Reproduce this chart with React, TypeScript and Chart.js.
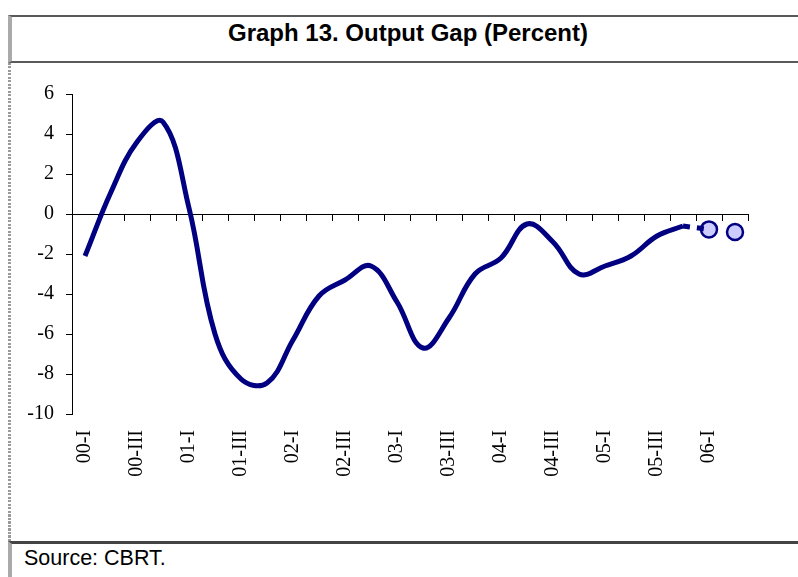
import React, { useEffect, useRef } from "react";
import { Chart, registerables } from "chart.js";

Chart.register(...registerables);

const quarters = [
  "00-I", "00-II", "00-III", "00-IV",
  "01-I", "01-II", "01-III", "01-IV",
  "02-I", "02-II", "02-III", "02-IV",
  "03-I", "03-II", "03-III", "03-IV",
  "04-I", "04-II", "04-III", "04-IV",
  "05-I", "05-II", "05-III", "05-IV",
  "06-I", "06-II",
];

// Output gap (percent), actual estimates 00-I .. 05-IV
const outputGap: (number | null)[] = [
  -2.1, 1.1, 3.6, 4.6,
  0.3, -6.0, -8.25, -8.45,
  -6.3, -4.1, -3.3, -2.6,
  -4.4, -6.7, -5.2, -3.0,
  -2.2, -0.5, -1.4, -3.0,
  -2.6, -2.1, -1.1, -0.6,
  null, null,
];

// Forecast points 06-I, 06-II
const forecast: (number | null)[] = [
  null, null, null, null, null, null, null, null, null, null, null, null,
  null, null, null, null, null, null, null, null, null, null, null, null,
  -0.77, -0.9,
];

// Dashed connector from last actual to first forecast
const connector: (number | null)[] = [
  null, null, null, null, null, null, null, null, null, null, null, null,
  null, null, null, null, null, null, null, null, null, null, null, -0.6,
  -0.77, null,
];

const yMin = -10;
const yMax = 6;
const yStep = 2;

const NAVY = "#000080";

function ChartCanvas() {
  const ref = useRef<HTMLCanvasElement | null>(null);
  useEffect(() => {
    if (!ref.current) return;
    const chart = new Chart(ref.current, {
      type: "line",
      data: {
        labels: quarters,
        datasets: [
          {
            data: outputGap,
            borderColor: NAVY,
            borderWidth: 5,
            tension: 0.4,
            pointRadius: 0,
            fill: false,
          },
          {
            data: connector,
            borderColor: NAVY,
            borderWidth: 5,
            borderDash: [7, 7],
            tension: 0,
            pointRadius: 0,
            fill: false,
          },
          {
            data: forecast,
            showLine: false,
            pointRadius: 8,
            pointBorderWidth: 2.5,
            pointBackgroundColor: "#CCCCFF",
            pointBorderColor: NAVY,
          },
        ],
      },
      options: {
        animation: false,
        responsive: false,
        maintainAspectRatio: false,
        layout: { padding: { top: 31, right: 50, bottom: 0, left: 0 } },
        plugins: {
          legend: { display: false },
          tooltip: { enabled: false },
          title: { display: false },
        },
        scales: {
          x: {
            type: "category",
            position: "bottom",
            offset: true,
            grid: { display: false, drawTicks: false },
            border: { display: false },
            ticks: {
              autoSkip: false,
              minRotation: 90,
              maxRotation: 90,
              padding: 16,
              color: "#000",
              font: { family: "'Liberation Serif', 'Times New Roman', serif", size: 20 },
              callback: function (_v: any, i: number) {
                return i % 2 === 0 ? quarters[i] : "";
              },
            },
            afterFit: (s: any) => {
              s.height = 127;
            },
          },
          x2: {
            type: "category",
            position: { y: 0 } as any,
            offset: true,
            grid: {
              display: true,
              drawOnChartArea: false,
              drawTicks: true,
              tickLength: 6,
              color: "#000",
              offset: true,
            },
            border: { display: true, color: "#000", width: 1 },
            ticks: { display: false },
            afterFit: (s: any) => {
              s.height = 0;
            },
          },
          y: {
            min: yMin,
            max: yMax,
            position: "left",
            grid: {
              display: true,
              drawOnChartArea: false,
              drawTicks: true,
              tickLength: 6,
              color: "#000",
            },
            border: { display: true, color: "#000", width: 1 },
            ticks: {
              stepSize: yStep,
              padding: 12,
              color: "#000",
              font: { family: "'Liberation Serif', 'Times New Roman', serif", size: 20 },
            },
            afterFit: (s: any) => {
              s.width = 60;
            },
          },
        },
      } as any,
    });
    return () => chart.destroy();
  }, []);
  return (
    <canvas
      ref={ref}
      width={786}
      height={478}
      style={{ position: "absolute", left: 12, top: 63, width: 786, height: 478 }}
    />
  );
}

export default function App() {
  return (
    <div
      style={{
        position: "absolute",
        left: 0,
        top: 0,
        width: 798,
        height: 577,
        overflow: "hidden",
        background: "#fff",
      }}
    >
      {/* Title box */}
      <div
        style={{
          position: "absolute",
          left: 8,
          top: 15,
          width: 800,
          height: 48,
          boxSizing: "border-box",
          borderTop: "2px solid #5a5a5a",
          borderBottom: "2px solid #5a5a5a",
          borderLeft: "4px solid #aaaaaa",
        }}
      />
      <div
        style={{
          position: "absolute",
          left: 10,
          top: 11,
          width: 796,
          height: 44,
          lineHeight: "44px",
          textAlign: "center",
          fontFamily: "'Liberation Sans', Arial, sans-serif",
          fontWeight: "bold",
          fontSize: 24,
          color: "#000",
        }}
      >
        Graph 13. Output Gap (Percent)
      </div>
      {/* Dashed left border */}
      <div
        style={{
          position: "absolute",
          left: 8,
          top: 63,
          width: 3,
          height: 478,
          background:
            "repeating-linear-gradient(to bottom, #9a9a9a 0px, #9a9a9a 2px, transparent 2px, transparent 3.5px)",
        }}
      />
      <ChartCanvas />
      {/* Source box */}
      <div
        style={{
          position: "absolute",
          left: 8,
          top: 541,
          width: 800,
          height: 40,
          boxSizing: "border-box",
          borderTop: "3px solid #444",
          borderLeft: "4px solid #aaaaaa",
        }}
      />
      <div
        style={{
          position: "absolute",
          left: 24,
          top: 544,
          fontFamily: "'Liberation Sans', Arial, sans-serif",
          fontSize: 21.5,
          lineHeight: "28px",
          color: "#000",
        }}
      >
        Source: CBRT.
      </div>
    </div>
  );
}
